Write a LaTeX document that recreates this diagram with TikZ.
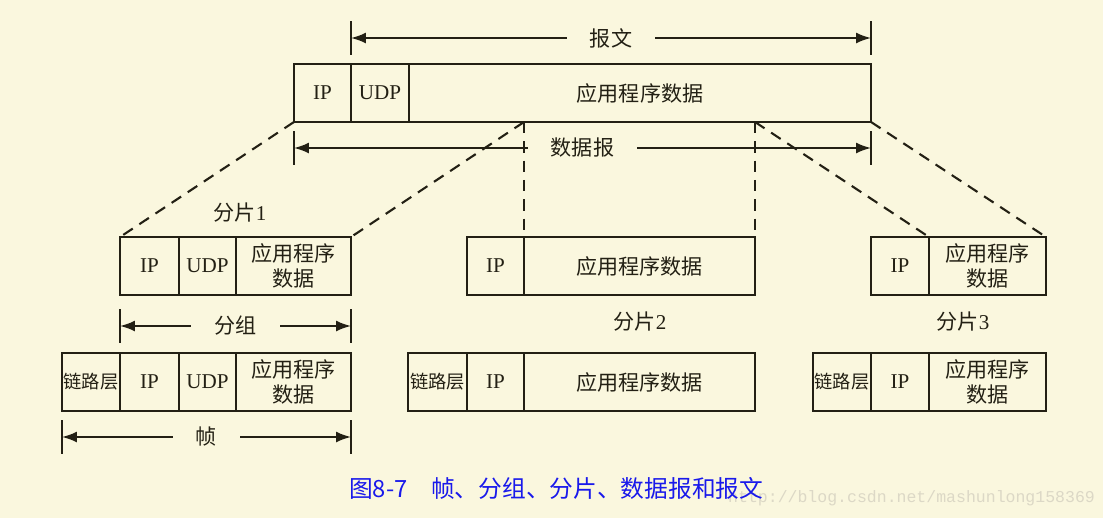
\documentclass[tikz,border=0pt]{standalone}
\usepackage{fontspec}
\setmainfont{Liberation Serif}
\setmonofont{Liberation Mono}
\newfontfamily\cjkfont{Noto Sans CJK SC}
\usetikzlibrary{arrows.meta}

\definecolor{paper}{RGB}{250,247,222}
\definecolor{ink}{RGB}{35,32,20}
\definecolor{capblue}{RGB}{25,25,235}
\definecolor{wmgray}{RGB}{220,216,198}

\tikzset{
  cell/.style={draw=ink, line width=1.2pt, minimum height=1.16cm, inner sep=0pt,
    outer sep=0pt, text=ink, align=center, font=\fontsize{12}{14.5}\selectfont},
  cut/.style={draw=ink, line width=1.2pt, dash pattern=on 6.5pt off 4.5pt},
  dim/.style={draw=ink, line width=1.1pt,
    {Latex[length=3mm,width=2.2mm]}-{Latex[length=3mm,width=2.2mm]}},
  tick/.style={draw=ink, line width=1.2pt},
  gap/.style={fill=paper, text=ink, inner xsep=0.46cm, inner ysep=1pt,
    font=\fontsize{12}{14.5}\selectfont},
  lbl/.style={text=ink, font=\fontsize{12}{14.5}\selectfont}
}

\newcommand{\zw}[1]{{\cjkfont #1}}
\newcommand{\llc}{{\fontsize{10.4}{12}\selectfont\cjkfont 链路层}}
% name, left, right, top, text
\newcommand{\cell}[5]{
  \node[cell, minimum width={(#3-#2)*0.02cm}, anchor=north west] (#1) at (#2,#4) {#5};
}
% name, left, right, y, label
\newcommand{\spanarrow}[5]{
  \coordinate (#1a) at (#2,#4);
  \coordinate (#1b) at (#3,#4);
  \draw[tick] ([yshift=0.34cm]#1a) -- ([yshift=-0.34cm]#1a);
  \draw[tick] ([yshift=0.34cm]#1b) -- ([yshift=-0.34cm]#1b);
  \draw[dim] (#1a) -- (#1b) node[midway, gap] (#1) {#5};
}

\begin{document}
\begin{tikzpicture}[x=0.02cm, y=-0.02cm]
  \fill[paper] (0,0) rectangle (1103,518);
  \useasboundingbox (0,0) rectangle (1103,518);

  % Datagram
  % ========
  \cell{dgip}{294}{351}{64}{IP}
  \cell{dgudp}{351}{409}{64}{UDP}
  \cell{dgdata}{409}{871}{64}{\zw{应用程序数据}}
  \spanarrow{bw}{351}{871}{38}{\zw{报文}}
  \spanarrow{sjb}{294}{871}{148}{\zw{数据报}}

  % Fragments
  % =========
  \cell{f1ip}{120}{179}{237}{IP}
  \cell{f1udp}{179}{236}{237}{UDP}
  \cell{f1data}{236}{351}{237}{\zw{应用程序}\\\zw{数据}}
  \node[lbl] (f1) at (240,213) {\zw{分片}1};

  \cell{f2ip}{467}{524}{237}{IP}
  \cell{f2data}{524}{755}{237}{\zw{应用程序数据}}
  \node[lbl] (f2) at (640,322) {\zw{分片}2};

  \cell{f3ip}{871}{929}{237}{IP}
  \cell{f3data}{929}{1046}{237}{\zw{应用程序}\\\zw{数据}}
  \node[lbl] (f3) at (963,322) {\zw{分片}3};

  \spanarrow{fz}{120}{351}{326}{\zw{分组}}

  % Cut lines
  % ---------
  \draw[cut] (dgip.south west) -- (f1ip.north west);
  \draw[cut] (f2data.north west |- dgdata.south) -- (f1data.north east);
  \draw[cut] (f2data.north west |- dgdata.south) -- (f2data.north west);
  \draw[cut] (f2data.north east |- dgdata.south) -- (f2data.north east);
  \draw[cut] (f2data.north east |- dgdata.south) -- (f3data.north west);
  \draw[cut] (dgdata.south east) -- (f3data.north east);

  % Frames
  % ======
  \cell{k1ll}{62}{120}{353}{\llc}
  \cell{k1ip}{120}{179}{353}{IP}
  \cell{k1udp}{179}{236}{353}{UDP}
  \cell{k1data}{236}{351}{353}{\zw{应用程序}\\\zw{数据}}

  \cell{k2ll}{408}{467}{353}{\llc}
  \cell{k2ip}{467}{524}{353}{IP}
  \cell{k2data}{524}{755}{353}{\zw{应用程序数据}}

  \cell{k3ll}{813}{871}{353}{\llc}
  \cell{k3ip}{871}{929}{353}{IP}
  \cell{k3data}{929}{1046}{353}{\zw{应用程序}\\\zw{数据}}

  \spanarrow{zh}{62}{351}{437}{\zw{帧}}

  % Caption
  % -------
  \node[text=wmgray, font=\fontsize{9.4}{11}\selectfont\ttfamily, anchor=west]
    (wmark) at (722,498) {http://blog.csdn.net/mashunlong158369};
  \node[text=capblue, font=\fontsize{13.5}{16}\selectfont\cjkfont, anchor=west]
    (caption) at (343,488) {图8-7\quad 帧、分组、分片、数据报和报文};
\end{tikzpicture}
\end{document}
